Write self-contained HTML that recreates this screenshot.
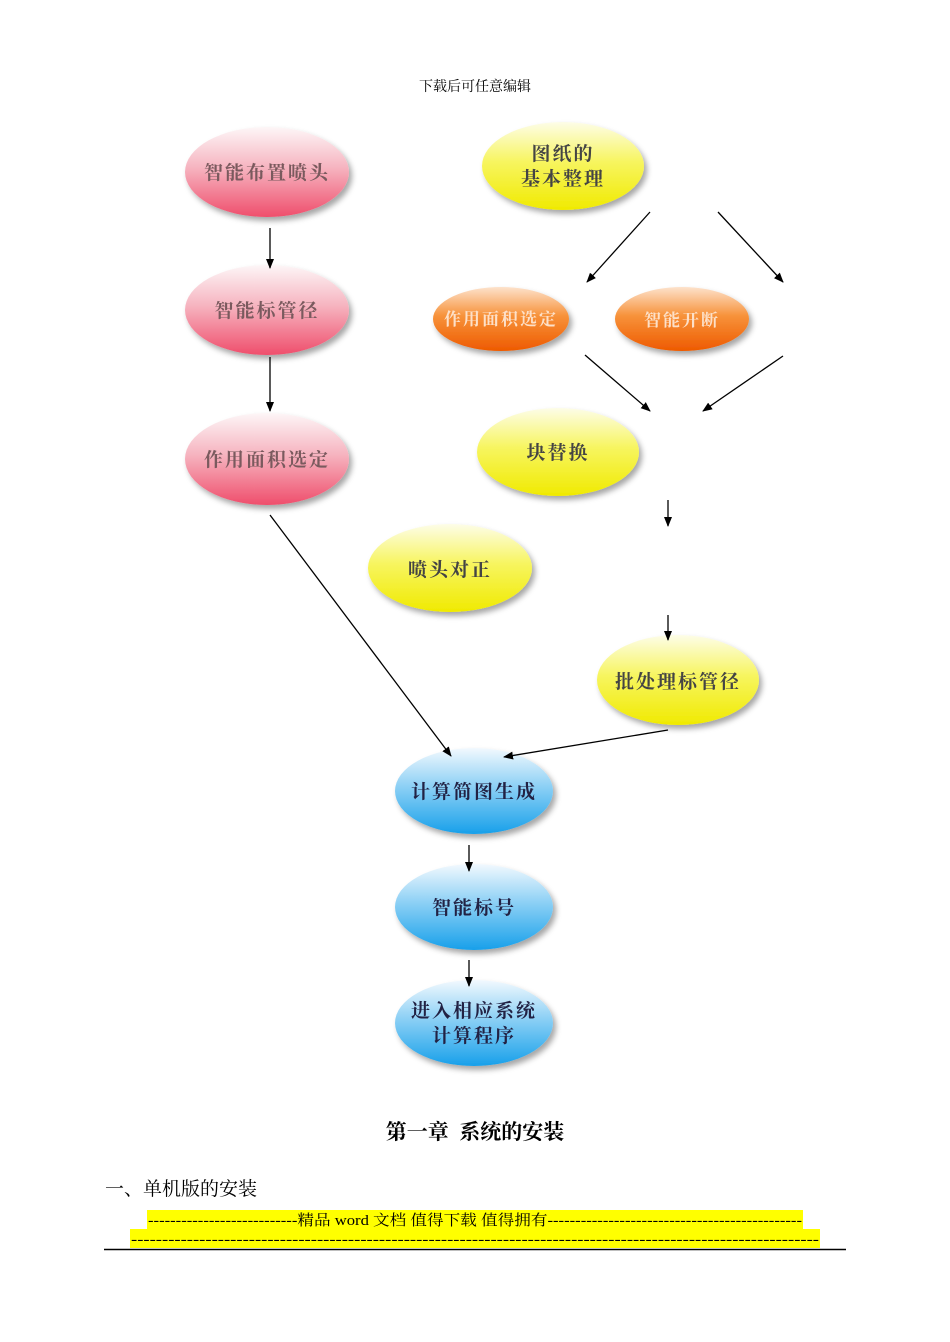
<!DOCTYPE html>
<html><head><meta charset="utf-8"><style>
body{margin:0;background:#fff;width:950px;height:1342px;overflow:hidden;font-family:"Liberation Serif","Noto Serif CJK SC",serif}
svg{position:absolute;left:0;top:0}
</style></head><body>
<svg width="950" height="1342" viewBox="0 0 950 1342" xmlns="http://www.w3.org/2000/svg">
<defs>
<linearGradient id="pk" x1="0" y1="0" x2="0" y2="1"><stop offset="0" stop-color="#fdf6f7"/><stop offset="0.45" stop-color="#f6b4c0"/><stop offset="1" stop-color="#ef4e6c"/></linearGradient>
<linearGradient id="ye" x1="0" y1="0" x2="0" y2="1"><stop offset="0" stop-color="#fdfde8"/><stop offset="0.45" stop-color="#f7f560"/><stop offset="1" stop-color="#f0ea00"/></linearGradient>
<linearGradient id="or" x1="0" y1="0" x2="0" y2="1"><stop offset="0" stop-color="#fde2cc"/><stop offset="0.45" stop-color="#f7923a"/><stop offset="1" stop-color="#ee5a00"/></linearGradient>
<linearGradient id="bl" x1="0" y1="0" x2="0" y2="1"><stop offset="0" stop-color="#f2f9fe"/><stop offset="0.45" stop-color="#8cd0f5"/><stop offset="1" stop-color="#18a0ea"/></linearGradient>
<filter id="sh" x="-20%" y="-20%" width="150%" height="160%"><feDropShadow dx="3" dy="4" stdDeviation="3" flood-color="#000" flood-opacity="0.35"/></filter>
<marker id="ar" markerWidth="10" markerHeight="10" refX="9" refY="5" orient="auto" markerUnits="userSpaceOnUse"><path d="M0,1 L10,5 L0,9 z" fill="#000"/></marker>
</defs>
<text x="475" y="91" font-size="14" text-anchor="middle" font-family="Liberation Serif,Noto Serif CJK SC,serif">下载后可任意编辑</text>
<g filter="url(#sh)">
<ellipse cx="267" cy="172" rx="82" ry="45" fill="url(#pk)"/>
<ellipse cx="563" cy="166" rx="81" ry="44" fill="url(#ye)"/>
<ellipse cx="267" cy="310" rx="82" ry="45" fill="url(#pk)"/>
<ellipse cx="501" cy="319" rx="68" ry="32" fill="url(#or)"/>
<ellipse cx="682" cy="319" rx="67" ry="32" fill="url(#or)"/>
<ellipse cx="267" cy="459" rx="82" ry="46" fill="url(#pk)"/>
<ellipse cx="558" cy="452" rx="81" ry="44" fill="url(#ye)"/>
<ellipse cx="450" cy="568" rx="82" ry="44" fill="url(#ye)"/>
<ellipse cx="678" cy="680" rx="81" ry="45" fill="url(#ye)"/>
<ellipse cx="474" cy="791" rx="79" ry="43" fill="url(#bl)"/>
<ellipse cx="474" cy="907" rx="79" ry="43" fill="url(#bl)"/>
<ellipse cx="474" cy="1023" rx="79" ry="43" fill="url(#bl)"/>
</g>
<g font-family="Noto Serif CJK SC,serif" font-size="19" text-anchor="middle" letter-spacing="2" font-weight="bold">
<text x="267" y="179" fill="#7a5a5e">智能布置喷头</text>
<text x="563" y="160" fill="#444">图纸的</text>
<text x="563" y="185" fill="#444">基本整理</text>
<text x="267" y="317" fill="#7a5a5e">智能标管径</text>
<text x="501" y="325" fill="#fde0c8" font-size="17">作用面积选定</text>
<text x="682" y="326" fill="#fde0c8" font-size="17">智能开断</text>
<text x="267" y="466" fill="#7a5a5e">作用面积选定</text>
<text x="558" y="459" fill="#444">块替换</text>
<text x="450" y="576" fill="#444">喷头对正</text>
<text x="678" y="688" fill="#444">批处理标管径</text>
<text x="474" y="798" fill="#224">计算简图生成</text>
<text x="474" y="914" fill="#224">智能标号</text>
<text x="474" y="1017" fill="#224">进入相应系统</text>
<text x="474" y="1042" fill="#224">计算程序</text>
</g>
<g stroke="#000" stroke-width="1.3" marker-end="url(#ar)">
<line x1="270" y1="228" x2="270" y2="268"/>
<line x1="270" y1="357" x2="270" y2="411"/>
<line x1="650" y1="212" x2="587" y2="282"/>
<line x1="718" y1="212" x2="783" y2="282"/>
<line x1="585" y1="355" x2="650" y2="411"/>
<line x1="783" y1="356" x2="703" y2="411"/>
<line x1="668" y1="500" x2="668" y2="526"/>
<line x1="668" y1="615" x2="668" y2="640"/>
<line x1="270" y1="515" x2="451" y2="756"/>
<line x1="668" y1="730" x2="504" y2="757"/>
<line x1="469" y1="845" x2="469" y2="871"/>
<line x1="469" y1="960" x2="469" y2="986"/>
</g>
<text x="475" y="1139" font-size="21" font-weight="bold" text-anchor="middle" xml:space="preserve" style="white-space:pre" font-family="Liberation Serif,Noto Serif CJK SC,serif">第一章  系统的安装</text>
<text x="105" y="1195" font-size="19" font-family="Liberation Serif,Noto Serif CJK SC,serif">一、单机版的安装</text>
<rect x="147" y="1210" width="656" height="19" fill="#ffff00"/>
<rect x="130" y="1229" width="690" height="19" fill="#ffff00"/>
<text x="475" y="1225" font-size="15" text-anchor="middle" textLength="654" lengthAdjust="spacingAndGlyphs" font-family="Liberation Serif,Noto Serif CJK SC,serif">---------------------------精品 word 文档 值得下载 值得拥有----------------------------------------------</text>
<text x="475" y="1244" font-size="15" text-anchor="middle" textLength="688" lengthAdjust="spacingAndGlyphs" font-family="Liberation Serif,serif">---------------------------------------------------------------------------------------------------------------</text>
<line x1="104" y1="1249.5" x2="846" y2="1249.5" stroke="#000" stroke-width="1.5"/>
</svg>
</body></html>
